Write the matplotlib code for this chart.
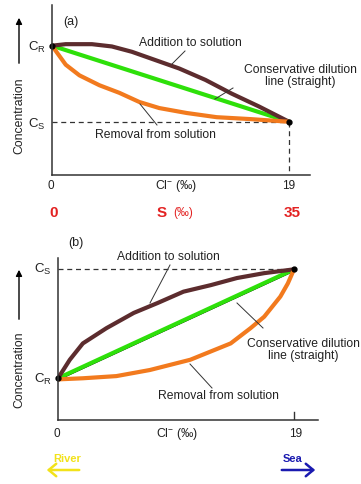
import matplotlib
matplotlib.use('Agg')
import matplotlib.pyplot as plt

plt.rcParams['font.family'] = ['Liberation Sans', 'DejaVu Sans']
plt.rcParams['mathtext.fontset'] = 'custom'
plt.rcParams['mathtext.rm'] = 'Liberation Sans'
plt.rcParams['mathtext.it'] = 'Liberation Sans'

W, H = 361, 484

# chlorinity axis: river end (0) to sea end (19)
cl_ends = [0, 19]

# panel (a): concentration scaled so C_S = 0, C_R = 1
a_add_x = [0, 1.1, 3.2, 4.8, 6.4, 8.3, 10.2, 12.3, 14.4, 16.6, 19]
a_add_y = [1.0, 1.02, 1.02, 0.99, 0.92, 0.81, 0.70, 0.55, 0.37, 0.20, 0.0]
a_rem_x = [0, 1.1, 2.2, 3.8, 5.4, 7.0, 8.6, 10.8, 13.2, 15.9, 19]
a_rem_y = [1.0, 0.75, 0.61, 0.48, 0.38, 0.26, 0.18, 0.115, 0.06, 0.035, 0.0]
a_cons_y = [1.0, 0.0]

# panel (b): concentration scaled so C_R = 0, C_S = 1
b_add_x = [0, 0.95, 2.0, 3.9, 6.1, 8.0, 10.1, 12.3, 14.4, 16.6, 19]
b_add_y = [0.0, 0.17, 0.32, 0.46, 0.60, 0.69, 0.795, 0.855, 0.92, 0.965, 1.0]
b_rem_x = [0, 2.0, 4.7, 7.4, 10.65, 13.9, 15.5, 16.6, 17.9, 18.5, 19]
b_rem_y = [-0.01, 0.0, 0.02, 0.076, 0.17, 0.32, 0.46, 0.565, 0.75, 0.87, 1.0]
b_cons_y = [0.0, 1.0]

salinity_labels = ['0', '35']

BROWN = '#5c2c2e'
GREEN = '#2ee00a'
ORANGE = '#f27a1e'
RED = '#e32222'


def fx(x, y):
    return x / W, 1 - y / H


def make_axes(fig, left, right, top, bottom, xmax, ylim):
    ax = fig.add_axes([left / W, 1 - bottom / H, (right - left) / W, (bottom - top) / H])
    ax.set_xlim(0, xmax)
    ax.set_ylim(*ylim)
    for s in ['top', 'right']:
        ax.spines[s].set_visible(False)
    for s in ['left', 'bottom']:
        ax.spines[s].set_color('#333333')
        ax.spines[s].set_linewidth(1.1)
    ax.set_xticks([])
    ax.set_yticks([])
    ax.patch.set_alpha(0)
    return ax


fig = plt.figure(figsize=(W / 100, H / 100), dpi=100)

# ---------------- panel (a)
ax1 = make_axes(fig, 52, 310, 5, 175, 20.68, (-0.70, 1.535))
ax1.plot([0, 19], [0, 0], ls=(0, (4, 3)), color='#333333', lw=0.9)
ax1.plot([19, 19], [0, -0.70], ls=(0, (4, 3)), color='#333333', lw=0.9)
ax1.plot(cl_ends, a_cons_y, color=GREEN, lw=3, solid_capstyle='round')
ax1.plot(a_add_x, a_add_y, color=BROWN, lw=3, solid_capstyle='round', solid_joinstyle='round')
ax1.plot(a_rem_x, a_rem_y, color=ORANGE, lw=3, solid_capstyle='round', solid_joinstyle='round')
ax1.plot(cl_ends, a_cons_y, 'o', color='black', ms=3.5, clip_on=False)

# ---------------- panel (b)
ax2 = make_axes(fig, 58, 318, 258, 420, 20.93, (-0.383, 1.104))
ax2.plot([0, 19], [1, 1], ls=(0, (4, 3)), color='#333333', lw=0.9)
ax2.plot([19, 19], [-0.383, -0.31], color='#333333', lw=1)
ax2.plot(cl_ends, [b_cons_y[0] - 0.015, b_cons_y[1] - 0.015], color='black', lw=1)
ax2.plot(cl_ends, b_cons_y, color=GREEN, lw=3, solid_capstyle='round')
ax2.plot(b_add_x, b_add_y, color=BROWN, lw=3, solid_capstyle='round', solid_joinstyle='round')
ax2.plot(b_rem_x, b_rem_y, color=ORANGE, lw=3, solid_capstyle='round', solid_joinstyle='round')
ax2.plot(cl_ends, b_cons_y, 'o', color='black', ms=3.5, clip_on=False)

fs = 8.7
txt = dict(fontsize=fs, color='#222222', ha='center', va='center')


def label(x, y, s, **kw):
    d = dict(txt)
    d.update(kw)
    fig.text(*fx(x, y), s, **d)


def leader(x0, y0, x1, y1):
    fig.add_artist(plt.Line2D([x0 / W, x1 / W], [1 - y0 / H, 1 - y1 / H],
                              color='#333333', lw=0.7))


def arrow(x0, y0, x1, y1, color, style, lw):
    fig.add_artist(matplotlib.patches.FancyArrowPatch(
        fx(x0, y0), fx(x1, y1), transform=fig.transFigure,
        arrowstyle=style, color=color, lw=lw, mutation_scale=9))


# panel (a) text
label(71, 22, '(a)', fontsize=9)
label(37, 47, r'C$_\mathrm{R}$', fontsize=9.5)
label(37, 124, r'C$_\mathrm{S}$', fontsize=9.5)
label(190, 43, 'Addition to solution')
leader(185, 51, 172, 64)
label(300, 76, 'Conservative dilution\nline (straight)', linespacing=1.05)
leader(233, 88, 215, 99)
label(155, 135, 'Removal from solution')
leader(140, 104, 157, 125)
label(19, 116, 'Concentration', rotation=90, fontsize=8.8)
arrow(19, 66, 19, 15, 'black', '-|>', 1.0)
label(51, 186, '0', fontsize=8.5)
label(176, 186, r'Cl$^{-}$ (‰)', fontsize=8.8)
label(289, 186, '19', fontsize=8.5)
label(54, 213, salinity_labels[0], fontsize=11, color=RED, fontweight='bold')
label(162, 213, 'S', fontsize=11, color=RED, fontweight='bold')
label(183, 213, '(‰)', fontsize=8.5, color=RED)
label(292, 213, salinity_labels[1], fontsize=11, color=RED, fontweight='bold')

# panel (b) text
label(76, 243, '(b)', fontsize=9)
label(43, 269, r'C$_\mathrm{S}$', fontsize=9.5)
label(43, 379, r'C$_\mathrm{R}$', fontsize=9.5)
label(168, 257, 'Addition to solution')
leader(170, 265, 150, 303)
label(303, 350, 'Conservative dilution\nline (straight)', linespacing=1.05)
leader(263, 328, 237, 303)
label(218, 396, 'Removal from solution')
leader(190, 364, 212, 388)
label(19, 370, 'Concentration', rotation=90, fontsize=8.8)
arrow(19, 322, 19, 267, 'black', '-|>', 1.0)
label(57, 434, '0', fontsize=8.5)
label(177, 434, r'Cl$^{-}$ (‰)', fontsize=8.8)
label(296, 434, '19', fontsize=8.5)

label(67, 459, 'River', fontsize=8, color='#f2e21a', fontweight='bold')
arrow(82, 470, 44, 470, '#f2e21a', '->,head_length=0.6,head_width=0.5', 1.8)
label(293, 459, 'Sea', fontsize=8, color='#1a1ab0', fontweight='bold')
arrow(279, 470, 318, 470, '#1a1ab0', '->,head_length=0.6,head_width=0.5', 1.8)

fig.savefig('out.png', dpi=100)
